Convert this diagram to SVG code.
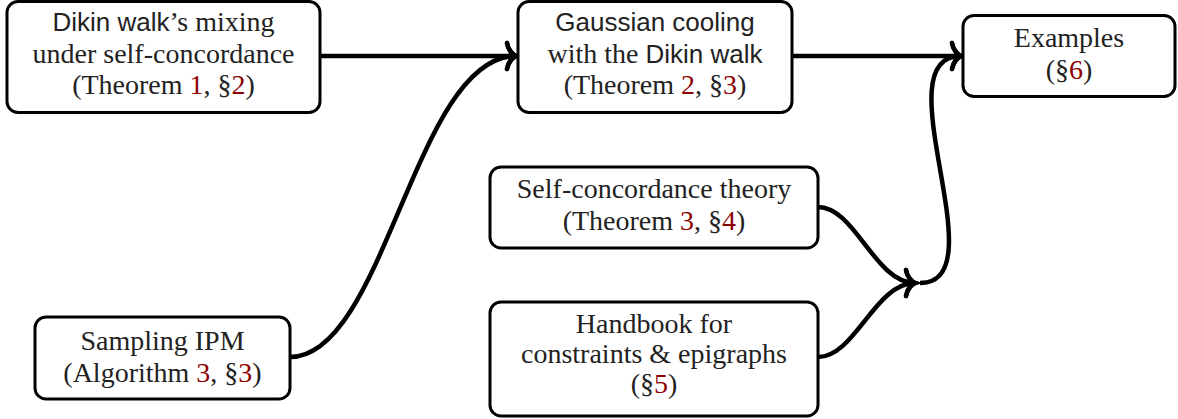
<svg xmlns="http://www.w3.org/2000/svg" width="1178" height="419" viewBox="0 0 1178 419">
<style>
.box{fill:#fff;stroke:#000;stroke-width:3}
.t{font-family:"Liberation Serif",serif;font-size:28px;fill:#222;text-anchor:middle}
.sf{font-family:"Liberation Sans",sans-serif;font-size:26px}
.r{fill:#8B0000}
.c{fill:none;stroke:#000;stroke-width:4.5}
</style>
<defs>
<marker id="ah" markerUnits="userSpaceOnUse" markerWidth="30" markerHeight="30" refX="0" refY="0" viewBox="-15 -15 30 30" orient="auto" overflow="visible">
<path d="M-9,-13 C-8,-6 -3,-1 0,0 C-3,1 -8,6 -9,13" fill="none" stroke="#000" stroke-width="4.5" stroke-linecap="round"/>
</marker>
</defs>
<g id="connectors">
<path class="c" d="M320,56 L516,56" marker-end="url(#ah)"/>
<path class="c" d="M290,357 C385,357 415,56 516,56" marker-end="url(#ah)"/>
<path class="c" d="M792,56 L961,56" marker-end="url(#ah)"/>
<path class="c" d="M818,207 C855,207 875,283 915,283" marker-end="url(#ah)"/>
<path class="c" d="M818,357 C855,357 875,283 915,283" marker-end="url(#ah)"/>
<path class="c" d="M920,283 C1000,283 880,56 961,56" marker-end="url(#ah)"/>
</g>
<g id="n1">
<rect class="box" x="7" y="1.5" width="313" height="111" rx="11"/>
<text class="t" x="163.5" y="31"><tspan class="sf">Dikin walk</tspan>’s mixing</text>
<text class="t" x="163.5" y="63">under self-concordance</text>
<text class="t" x="163.5" y="94">(Theorem <tspan class="r">1</tspan>, §<tspan class="r">2</tspan>)</text>
</g>
<g id="n2">
<rect class="box" x="518" y="1.5" width="274" height="111" rx="11"/>
<text class="t" x="655" y="31"><tspan class="sf">Gaussian cooling</tspan></text>
<text class="t" x="655" y="63">with the <tspan class="sf">Dikin walk</tspan></text>
<text class="t" x="655" y="94">(Theorem <tspan class="r">2</tspan>, §<tspan class="r">3</tspan>)</text>
</g>
<g id="n3">
<rect class="box" x="963" y="15.5" width="212" height="81" rx="11"/>
<text class="t" x="1069" y="47">Examples</text>
<text class="t" x="1069" y="79">(§<tspan class="r">6</tspan>)</text>
</g>
<g id="n4">
<rect class="box" x="490" y="167" width="328" height="81" rx="11"/>
<text class="t" x="654" y="198">Self-concordance theory</text>
<text class="t" x="654" y="230">(Theorem <tspan class="r">3</tspan>, §<tspan class="r">4</tspan>)</text>
</g>
<g id="n5">
<rect class="box" x="490" y="302" width="328" height="114" rx="11"/>
<text class="t" x="654" y="333">Handbook for</text>
<text class="t" x="654" y="363">constraints &amp; epigraphs</text>
<text class="t" x="654" y="393">(§<tspan class="r">5</tspan>)</text>
</g>
<g id="n6">
<rect class="box" x="35" y="317" width="255" height="82" rx="11"/>
<text class="t" x="162.5" y="350">Sampling IPM</text>
<text class="t" x="162.5" y="382">(Algorithm <tspan class="r">3</tspan>, §<tspan class="r">3</tspan>)</text>
</g>
</svg>
